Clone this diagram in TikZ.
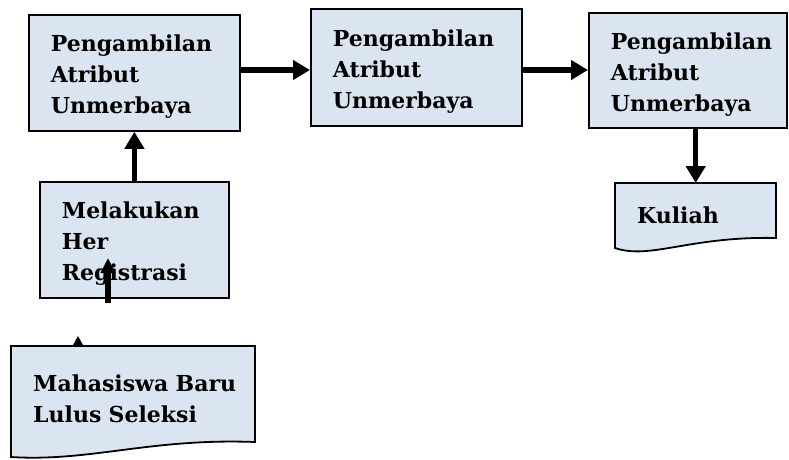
\documentclass[tikz,border=0pt]{standalone}
\usepackage{fontspec}
\setmainfont{DejaVu Serif}
\usetikzlibrary{arrows.meta,backgrounds}
\definecolor{boxfill}{HTML}{DBE5F1}
\tikzset{
  lbl/.style={font=\fontsize{22}{31}\selectfont\bfseries, align=left, anchor=north west, inner xsep=22pt, inner ysep=0pt, execute at begin node={\rule{0pt}{25pt}}},
  proc/.style={lbl, draw=black, line width=1.8pt, fill=boxfill},
  docshape/.style={draw=black, line width=1.8pt, fill=boxfill},
  arr/.style={line width=5.5pt, -{Triangle[length=17pt,width=19pt]}},
  arrsmall/.style={line width=6pt, -{Triangle[length=15pt,width=14pt]}},
}
\begin{document}
\begin{tikzpicture}[x=1pt,y=-1pt]
\useasboundingbox (0,0) rectangle (789,459);
\node[proc, minimum width=211pt, minimum height=116pt, text width=167pt] (b1) at (28,14) {Pengambilan\\Atribut\\Unmerbaya};
\node[proc, minimum width=211pt, minimum height=117pt, text width=167pt] (b2) at (310,8) {Pengambilan\\Atribut\\Unmerbaya};
\node[proc, minimum width=198pt, minimum height=115pt, text width=154pt] (b3) at (588,12) {Pengambilan\\Atribut\\Unmerbaya};
\node[proc, minimum width=189pt, minimum height=116pt, text width=145pt] (mel) at (39,181) {Melakukan\\Her\\Registrasi};
\node[lbl, minimum width=244pt, minimum height=96pt, text width=200pt] (mah) at (11,346) {Mahasiswa~Baru\\Lulus Seleksi};
\node[lbl, minimum width=161pt, minimum height=55pt, text width=117pt] (kul) at (615,183) {Kuliah};
\begin{scope}[on background layer]
  \fill (73,345) -- (83,345) -- (78,336) -- cycle;
  \draw[docshape] (mah.north west) -- ++(244,0) -- ++(0,96)
    .. controls (150,438) and (90,462) .. (11,457) -- cycle;
  \draw[docshape] (kul.north west) -- ++(161,0) -- ++(0,55)
    .. controls (690,236) and (650,260) .. (615,248) -- cycle;
\end{scope}
\coordinate (inA) at (108,303);
\coordinate (inB) at (108,258);
\draw[arr] (b1.east |- 0,70) -- (b2.west |- 0,70);
\draw[arr] (b2.east |- 0,70) -- (b3.west |- 0,70);
\draw[arr] (kul.north |- b3.south) -- (kul.north);
\draw[arr] (mel.north) -- (b1.south -| mel.north);
\draw[arrsmall] (inA) -- (inB);
\end{tikzpicture}
\end{document}
